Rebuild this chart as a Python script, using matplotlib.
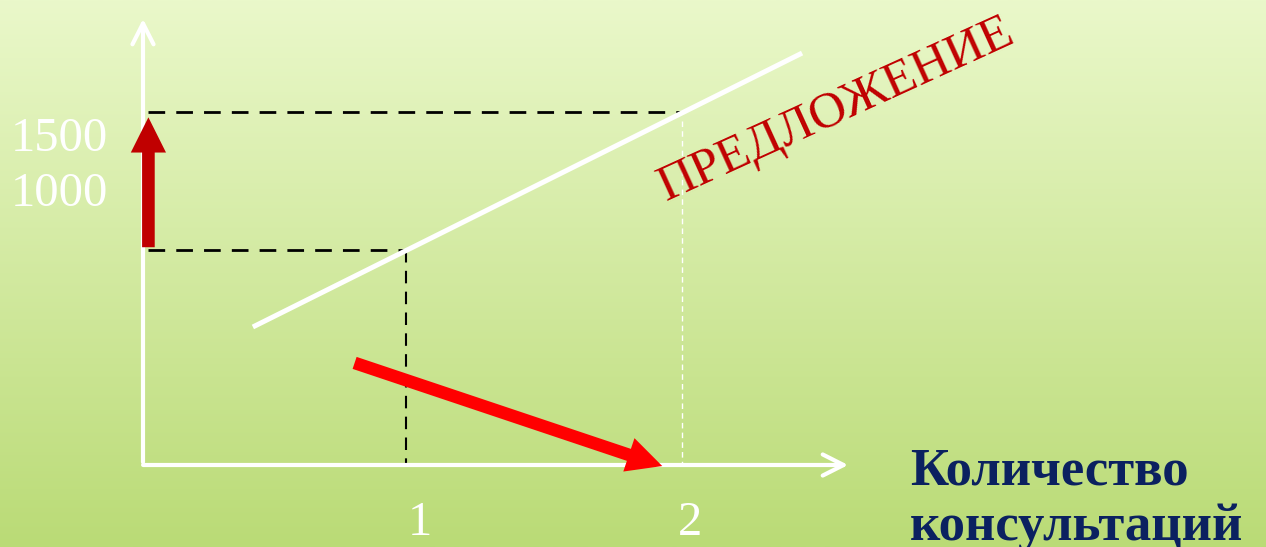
import numpy as np
import matplotlib
matplotlib.use('Agg')
import matplotlib.pyplot as plt
from matplotlib.patches import FancyArrowPatch

# Данные (оценка по картинке)
# равновесные точки: количество консультаций и цена
eq_q = [0.974, 1.996]
eq_p = [1000, 1642]
# линия предложения
supply_q = [0.407, 2.441]
supply_p = [642, 1916]
# подписи
x_ticks = [1, 2]
x_tick_labels = ['1', '2']
y_labels = ['1500', '1000']
y_label_pos = [1515, 1260]
axis_title = ['Количество', 'консультаций']
axis_title_pos = [-30, -290]
# стрелки
up_arrow_q = [0.02, 0.02]
up_arrow_p = [1000, 1630]
shift_q = [0.774, 1.933]
shift_p = [479, -9]

# масштаб: 1 консультация = 270 px, 1 руб = 0.215 px
x_min, x_max = -143 / 270, (1266 - 143) / 270
y_min, y_max = -82 / 0.215, 465 / 0.215

fig = plt.figure(figsize=(12.66, 5.47), dpi=100)
ax = fig.add_axes([0, 0, 1, 1])
ax.set_xlim(x_min, x_max)
ax.set_ylim(y_min, y_max)
ax.axis('off')

# фон — вертикальный градиент
top = np.array([234, 248, 202]) / 255
bottom = np.array([186, 219, 118]) / 255
t = np.linspace(0, 1, 256)[:, None]
grad = (top * (1 - t) + bottom * t)[:, None, :]
ax.imshow(grad, extent=[x_min, x_max, y_min, y_max], aspect='auto',
          origin='upper', zorder=0)

# оси
axis_arrow = dict(arrowstyle='->,head_length=0.75,head_width=0.38',
                  mutation_scale=20, color='white', lw=3)
ax.annotate('', xy=(0, 2088), xytext=(0, 0), arrowprops=axis_arrow, zorder=3)
ax.annotate('', xy=(2.622, 0), xytext=(-0.01, 0), arrowprops=axis_arrow, zorder=3)

# пунктирные линии
ax.plot([0.02, eq_q[1]], [eq_p[1], eq_p[1]], color='black', lw=2,
        dashes=(6, 4), zorder=2)
ax.plot([0.02, eq_q[0]], [eq_p[0], eq_p[0]], color='black', lw=2,
        dashes=(6, 4), zorder=2)
ax.plot([eq_q[0], eq_q[0]], [eq_p[0], 0], color='black', lw=1.5,
        dashes=(6, 4), zorder=2)
ax.plot([eq_q[1], eq_q[1]], [eq_p[1] - 40, 0], color='white', lw=1,
        dashes=(4, 3), zorder=2)

# линия предложения
ax.plot(supply_q, supply_p, color='white', lw=3.6, solid_capstyle='butt', zorder=4)

# красные стрелки
red_style = 'simple,head_length=1.95,head_width=1.95,tail_width=0.7'
ax.add_patch(FancyArrowPatch((up_arrow_q[0], up_arrow_p[0]),
                             (up_arrow_q[1], up_arrow_p[1]),
                             arrowstyle=red_style, mutation_scale=13,
                             color='#C00000', lw=0, zorder=5))
ax.add_patch(FancyArrowPatch((shift_q[0], shift_p[0]),
                             (shift_q[1], shift_p[1]),
                             arrowstyle=red_style, mutation_scale=13,
                             color='#FF0000', lw=0, zorder=5))

# подписи
serif = ['Liberation Serif', 'DejaVu Serif']
for y, s in zip(y_label_pos, y_labels):
    ax.text(-0.31, y, s, color='white', fontsize=35, family=serif,
            ha='center', va='center', zorder=6)
for x, s in zip(x_ticks, x_tick_labels):
    ax.text(x + 0.026, -272, s, color='white', fontsize=35, family=serif,
            ha='center', va='center', zorder=6)

ax.text(2.567, 1650, 'ПРЕДЛОЖЕНИЕ', color='#C00000', fontsize=37, family=serif,
        rotation=24.5, rotation_mode='anchor', ha='center', va='center', zorder=6)

for y, s in zip(axis_title_pos, axis_title):
    ax.text(2.84, y, s, color='#0B2160', fontsize=38, family=serif,
            fontweight='bold', ha='left', va='center', zorder=6)

plt.savefig('out.png', dpi=100)
